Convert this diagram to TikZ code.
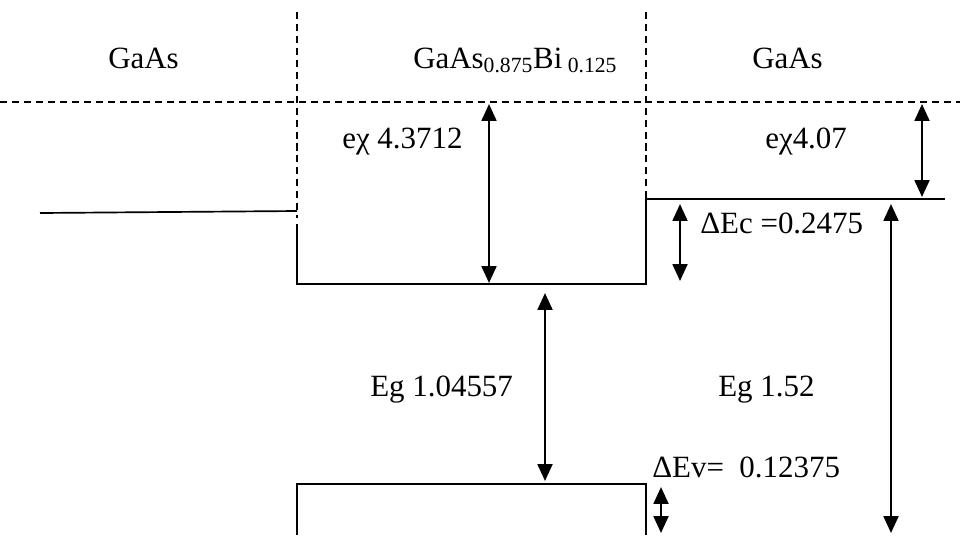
\documentclass[tikz,border=0pt]{standalone}
\usepackage{fontspec}
\setmainfont{Liberation Serif}
\usetikzlibrary{arrows.meta}

\begin{document}
\begin{tikzpicture}[
        x=0.025cm, y=-0.025cm,
        band/.style={line width=1.2pt},
        guide/.style={line width=0.8pt, dash pattern=on 5pt off 3.5pt},
        gap/.style={
            {Triangle[length=12pt,width=10.5pt]}-{Triangle[length=12pt,width=10.5pt]},
            line width=1.8pt
        },
        txt/.style={font=\fontsize{22}{26}\selectfont, inner sep=0pt, anchor=base west}
    ]
        \useasboundingbox (0,0) rectangle (960,535);

        % Material labels
        \node[txt] (gaasL) at (108,68) {GaAs};
        \node[txt] (alloy) at (413,68) {GaAs\textsubscript{0.875}Bi\textsubscript{ 0.125}};
        \node[txt] (gaasR) at (752,68) {GaAs};

        % Vacuum level and interfaces
        \draw[guide] (0,102) -- (960,102);
        \draw[guide] (297,12) -- (297,218);
        \draw[guide] (646,12) -- (646,199);

        % Conduction band
        \coordinate (cbL) at (40,213);
        \coordinate (cbLend) at (297,211);
        \coordinate (wellTL) at (297,224);
        \coordinate (wellBL) at (297,284);
        \coordinate (wellBR) at (646,284);
        \coordinate (cbR) at (646,199);
        \coordinate (cbEnd) at (945,199);
        \draw[band] (cbL) -- (cbLend);
        \draw[band] (wellTL) -- (wellBL) -- (wellBR) -- (cbR) -- (cbEnd);

        % Valence band
        \coordinate (vbL) at (297,535);
        \coordinate (vbTL) at (297,484);
        \coordinate (vbTR) at (646,484);
        \coordinate (vbR) at (646,535);
        \draw[band] (vbL) -- (vbTL) -- (vbTR) -- (vbR);

        % Energy arrows
        \coordinate (chiAtop) at (489,104);
        \coordinate (chiAbot) at (489,283);
        \coordinate (chiBtop) at (922,104);
        \coordinate (chiBbot) at (922,197);
        \coordinate (dEcTop) at (680,204);
        \coordinate (dEcBot) at (680,281);
        \coordinate (egBtop) at (891,204);
        \coordinate (egBbot) at (891,533);
        \coordinate (egAtop) at (545,293);
        \coordinate (egAbot) at (545,481);
        \coordinate (dEvTop) at (661,487);
        \coordinate (dEvBot) at (661,533);
        \draw[gap] (chiAtop) -- (chiAbot);
        \draw[gap] (chiBtop) -- (chiBbot);
        \draw[gap] (dEcTop) -- (dEcBot);
        \draw[gap] (egBtop) -- (egBbot);
        \draw[gap] (egAtop) -- (egAbot);
        \draw[gap] (dEvTop) -- (dEvBot);

        % Values
        \node[txt] (chiA) at (342,148) {eχ 4.3712};
        \node[txt] (chiB) at (765,148) {eχ4.07};
        \node[txt] (dEc) at (700,233) {ΔEc =0.2475};
        \node[txt] (egA) at (370,396) {Eg 1.04557};
        \node[txt] (egB) at (718,396) {Eg 1.52};
        \node[txt] (dEv) at (652,477) {ΔEv=~~0.12375};
    \end{tikzpicture}
\end{document}
